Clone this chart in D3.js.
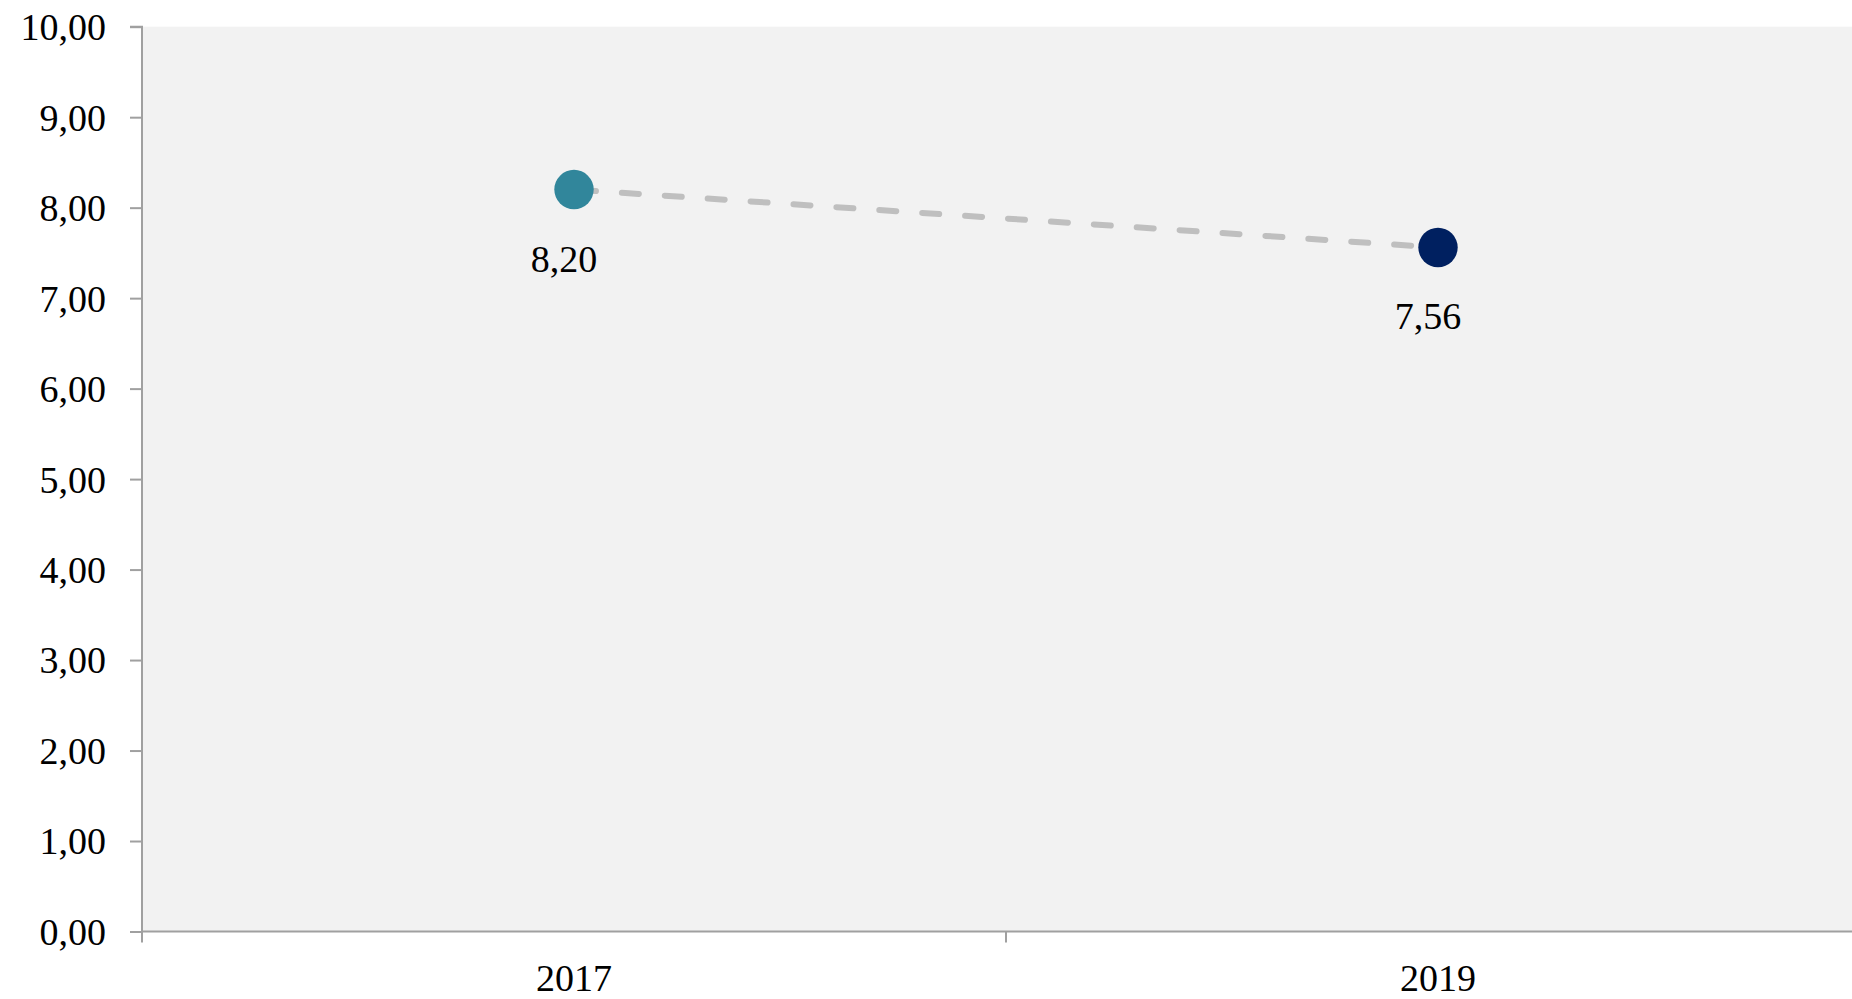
<!DOCTYPE html>
<html>
<head>
<meta charset="utf-8">
<script src="https://cdn.jsdelivr.net/npm/d3@7/dist/d3.min.js"></script>
<style>
  html, body { margin: 0; padding: 0; background: #ffffff; overflow: hidden; }
  svg { display: block; }
  text { font-family: "Liberation Serif", "DejaVu Serif", serif; fill: #000; }
</style>
</head>
<body>
<svg id="chart" width="1852" height="999"></svg>
<script>
// Survey years and their scores
const years = ["2017", "2019"];
const scores = [8.20, 7.56];
const pointColors = ["#31869b", "#002060"];
const yTicks = [0, 1, 2, 3, 4, 5, 6, 7, 8, 9, 10];

const svg = d3.select("#chart");
const plotLeft = 142, plotTop = 26.7, plotBottom = 931.5, plotRight = 1870;

const x = d3.scaleBand().domain(years).range([plotLeft, plotRight]).paddingInner(0).paddingOuter(0);
const y = d3.scaleLinear().domain([0, 10]).range([plotBottom, plotTop]);
const fmt = v => d3.format(".2f")(v).replace(".", ",");

// plot area
svg.append("rect")
  .attr("x", plotLeft).attr("y", plotTop)
  .attr("width", plotRight - plotLeft).attr("height", plotBottom - plotTop)
  .attr("fill", "#f2f2f2");

// y axis
const yAxis = svg.append("g")
  .attr("transform", `translate(${plotLeft},0)`)
  .call(d3.axisLeft(y).tickValues(yTicks).tickSize(12).tickPadding(24).tickFormat(fmt));
yAxis.selectAll("text").style("font-size", "38px").attr("dy", "0.34em");

// x axis: ticks on band boundaries, labels at band centres
const xAxisG = svg.append("g").attr("transform", `translate(0,${plotBottom})`);
xAxisG.append("line")
  .attr("x1", plotLeft).attr("x2", plotRight).attr("y1", 0).attr("y2", 0);
const boundaries = years.map(d => x(d)).concat([x(years[years.length - 1]) + x.bandwidth()]);
xAxisG.selectAll("line.tick")
  .data(boundaries)
  .join("line")
  .attr("class", "tick")
  .attr("x1", d => d).attr("x2", d => d)
  .attr("y1", 0).attr("y2", 11);
xAxisG.selectAll("text")
  .data(years)
  .join("text")
  .attr("x", d => x(d) + x.bandwidth() / 2)
  .attr("y", 59)
  .attr("text-anchor", "middle")
  .style("font-size", "38px")
  .text(d => d);

svg.selectAll(".domain, .tick line, g line").attr("stroke", "#a0a0a0").attr("stroke-width", 2);
yAxis.select(".domain").attr("d", `M-12,${plotTop}H0V${plotBottom}`);

// connecting dashed line
const pts = years.map((d, i) => ({ year: d, value: scores[i], color: pointColors[i] }));
const line = d3.line().x(d => x(d.year) + x.bandwidth() / 2).y(d => y(d.value));
svg.append("path")
  .datum(pts)
  .attr("d", line)
  .attr("fill", "none")
  .attr("stroke", "#bfbfbf")
  .attr("stroke-width", 6)
  .attr("stroke-linecap", "round")
  .attr("stroke-dasharray", "17,26")
  .attr("stroke-dashoffset", -5);

// markers
svg.selectAll("circle.pt")
  .data(pts)
  .join("circle")
  .attr("class", "pt")
  .attr("cx", d => x(d.year) + x.bandwidth() / 2)
  .attr("cy", d => y(d.value))
  .attr("r", 19.7)
  .attr("fill", d => d.color);

// value labels below markers
svg.selectAll("text.val")
  .data(pts)
  .join("text")
  .attr("class", "val")
  .attr("x", d => x(d.year) + x.bandwidth() / 2 - 10)
  .attr("y", d => y(d.value) + 82)
  .attr("text-anchor", "middle")
  .style("font-size", "38px")
  .text(d => fmt(d.value));
</script>
</body>
</html>
